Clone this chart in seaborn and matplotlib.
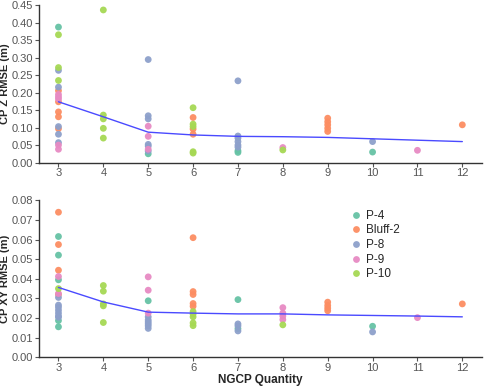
import matplotlib
matplotlib.use("Agg")
import matplotlib.pyplot as plt
import seaborn as sns
import pandas as pd

# --- data ---
sites = ["P-4", "Bluff-2", "P-8", "P-9", "P-10"]
ngcp = [3, 4, 5, 6, 7, 8, 9, 10, 11, 12]

# CP Z RMSE (m), per site: NGCP quantity and value
z_p4_x = [3, 5, 7, 7, 10]
z_p4 = [0.388, 0.025, 0.034, 0.029, 0.030]
z_bluff_x = [3, 3, 3, 3, 3, 6, 6, 6, 9, 9, 9, 9, 9, 12]
z_bluff = [0.206, 0.174, 0.145, 0.131, 0.097, 0.129, 0.096, 0.081,
           0.127, 0.117, 0.108, 0.098, 0.089, 0.108]
z_p8_x = [3, 3, 3, 3, 3, 5, 5, 5, 5, 5, 5, 7, 7, 7, 7, 7, 7, 10]
z_p8 = [0.264, 0.216, 0.103, 0.081, 0.057, 0.295, 0.134, 0.125, 0.052,
        0.047, 0.033, 0.234, 0.076, 0.070, 0.060, 0.050, 0.044, 0.060]
z_p9_x = [3, 3, 3, 3, 3, 5, 5, 5, 8, 11]
z_p9 = [0.195, 0.188, 0.182, 0.050, 0.038, 0.104, 0.075, 0.038, 0.043, 0.035]
z_p10_x = [3, 3, 3, 4, 4, 4, 4, 4, 6, 6, 6, 6, 6, 8]
z_p10 = [0.366, 0.272, 0.235, 0.437, 0.136, 0.125, 0.098, 0.070,
         0.157, 0.110, 0.103, 0.031, 0.027, 0.036]

# CP XY RMSE (m)
xy_p4_x = [3, 3, 3, 3, 3, 5, 7, 7, 10]
xy_p4 = [0.0616, 0.0521, 0.0395, 0.0187, 0.0155, 0.0288, 0.0294, 0.0146, 0.0158]
xy_bluff_x = [3, 3, 3, 3, 6, 6, 6, 6, 6, 9, 9, 9, 9, 12]
xy_bluff = [0.074, 0.0575, 0.0444, 0.032, 0.061, 0.0335, 0.032, 0.0274,
            0.026, 0.0281, 0.0264, 0.025, 0.0237, 0.0272]
xy_p8_x = [3, 3, 3, 3, 3, 3, 3, 5, 5, 5, 5, 5, 5, 7, 7, 7, 10]
xy_p8 = [0.0305, 0.0266, 0.0255, 0.024, 0.0225, 0.021, 0.0204, 0.0206,
         0.019, 0.018, 0.017, 0.016, 0.0147, 0.017, 0.016, 0.0134, 0.0129]
xy_p9_x = [3, 3, 5, 5, 5, 8, 8, 8, 8, 11]
xy_p9 = [0.0412, 0.0325, 0.041, 0.0342, 0.0225, 0.0253, 0.0225, 0.021,
         0.0192, 0.0202]
xy_p10_x = [3, 4, 4, 4, 4, 4, 6, 6, 6, 6, 6, 8]
xy_p10 = [0.035, 0.0366, 0.0337, 0.0272, 0.0262, 0.0177, 0.0233, 0.022,
          0.0206, 0.0175, 0.0161, 0.0165]

# fitted trend lines
trend_z = [0.174, 0.131, 0.087, 0.079, 0.075, 0.074, 0.072, 0.068, 0.064, 0.060]
trend_xy = [0.0356, 0.0282, 0.0230, 0.0225, 0.0221, 0.0221, 0.0216, 0.0213,
            0.0210, 0.0206]


def long_df(pairs):
    frames = []
    for site, (xs, ys) in zip(sites, pairs):
        frames.append(pd.DataFrame({"ngcp": xs, "rmse": ys, "site": site}))
    return pd.concat(frames, ignore_index=True)


z_df = long_df([(z_p4_x, z_p4), (z_bluff_x, z_bluff), (z_p8_x, z_p8),
                (z_p9_x, z_p9), (z_p10_x, z_p10)])
xy_df = long_df([(xy_p4_x, xy_p4), (xy_bluff_x, xy_bluff), (xy_p8_x, xy_p8),
                 (xy_p9_x, xy_p9), (xy_p10_x, xy_p10)])

sns.set_theme(style="ticks")
plt.rcParams["font.family"] = ["Liberation Sans", "DejaVu Sans"]
palette = dict(zip(sites, sns.color_palette("Set2", 5)))

fig = plt.figure(figsize=(4.84, 3.87), dpi=100)
ax1 = fig.add_axes([0.080, 0.580, 0.916, 0.406])
ax2 = fig.add_axes([0.080, 0.077, 0.916, 0.405])

panels = [
    (ax1, z_df, trend_z, "CP Z RMSE (m)", (0, 0.45), [i * 0.05 for i in range(10)]),
    (ax2, xy_df, trend_xy, "CP XY RMSE (m)", (0, 0.08), [i * 0.01 for i in range(9)]),
]
for ax, df, trend, ylabel, ylim, yticks in panels:
    sns.scatterplot(data=df, x="ngcp", y="rmse", hue="site", hue_order=sites,
                    palette=palette, s=24, linewidth=0, alpha=0.95,
                    legend=(ax is ax2), ax=ax, zorder=3)
    sns.lineplot(x=ngcp, y=trend, color="#4a4aff", linewidth=1.0, ax=ax,
                 zorder=4)
    ax.set_xlim(2.56, 12.44)
    ax.set_ylim(*ylim)
    ax.set_xticks(ngcp)
    ax.set_yticks(yticks)
    ax.set_yticklabels([f"{t:.2f}" for t in yticks])
    ax.set_ylabel(ylabel, fontsize=8, fontweight="bold", labelpad=1)
    ax.set_xlabel("")
    ax.tick_params(labelsize=8, colors="#555555", length=3, width=0.8, pad=1)
    for side in ["left", "bottom"]:
        ax.spines[side].set_color("#333333")
        ax.spines[side].set_linewidth(1.0)
    sns.despine(ax=ax)

ax2.set_xlabel("NGCP Quantity", fontsize=8.5, fontweight="bold", labelpad=1)
ax2.legend(title=None, frameon=False, fontsize=8.5, loc="upper left",
           bbox_to_anchor=(0.69, 0.97), handletextpad=0.2, handlelength=1.2,
           labelspacing=0.22, borderaxespad=0)

fig.savefig("out.png", dpi=100)
